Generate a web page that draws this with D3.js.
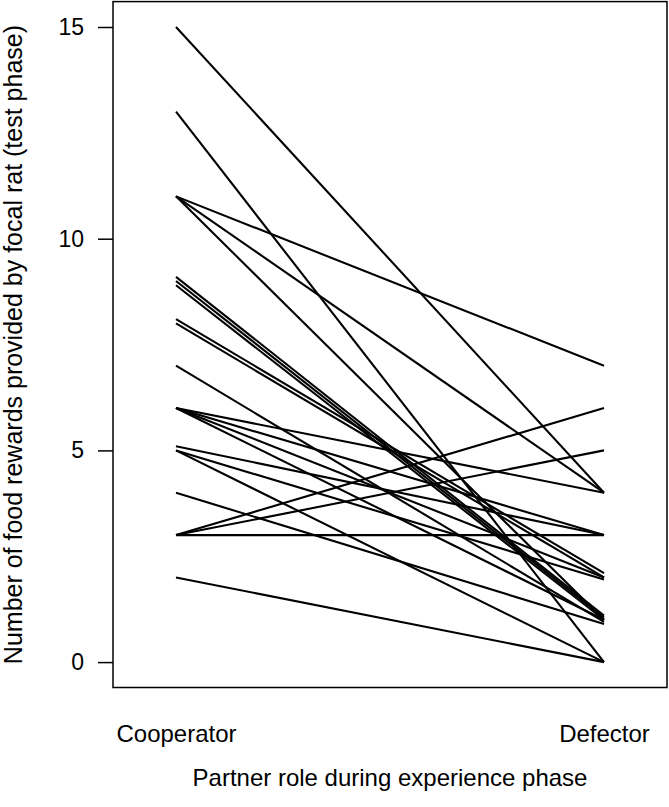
<!DOCTYPE html>
<html>
<head>
<meta charset="utf-8">
<script src="https://cdn.jsdelivr.net/npm/d3@7"></script>
<style>
  html, body { margin: 0; padding: 0; background: #fff; }
  svg { display: block; font-family: "Liberation Sans", Arial, sans-serif; }
</style>
</head>
<body>
<svg id="chart" width="669" height="807"></svg>
<script>
// ---- data (small offsets reproduce the visual jitter of duplicates) ----
const categories = ["Cooperator", "Defector"];
const cooperatorValues = [15, 13, 11, 11, 11, 9.1, 9.0, 8.9, 8.1, 8.0, 7, 6, 6, 6, 6, 5.1, 5.0, 5.0, 4, 3, 3, 3, 2];
const defectorValues   = [4,  0,  7,  4,  1,  1.1, 1.05, 1.0, 2.1, 2.0, 0.95, 4, 3, 2, 1.0, 3, 1.95, 0, 0.9, 3, 6, 5, 0];
const yTicks = [0, 5, 10, 15];
const xTitle = "Partner role during experience phase";
const yTitle = "Number of food rewards provided by focal rat (test phase)";

const pairs = cooperatorValues.map((c, i) => [c, defectorValues[i]]);

const svg = d3.select("#chart");
const box = { left: 113, right: 667, top: 1.6, bottom: 687.5 };

const x = d3.scalePoint().domain(categories).range([176, 604]);
const y = d3.scaleLinear().domain([-0.6, 15.6]).range([box.bottom, box.top]);

// lines
const line = d3.line().x(d => x(d.cat)).y(d => y(d.v));
svg.append("g")
  .selectAll("path")
  .data(pairs)
  .join("path")
  .attr("d", p => line([{cat: categories[0], v: p[0]}, {cat: categories[1], v: p[1]}]))
  .attr("fill", "none")
  .attr("stroke", "#000")
  .attr("stroke-width", 2.1);

// box
svg.append("rect")
  .attr("x", box.left).attr("y", box.top)
  .attr("width", box.right - box.left).attr("height", box.bottom - box.top)
  .attr("fill", "none").attr("stroke", "#000").attr("stroke-width", 1.5);

// y axis
const yAxis = d3.axisLeft(y).tickValues(yTicks).tickSize(15).tickPadding(14).tickFormat(d3.format("d"));
const gy = svg.append("g").attr("transform", `translate(${box.left},0)`).call(yAxis);
gy.select(".domain").remove();
gy.selectAll(".tick line").attr("stroke", "#000").attr("stroke-width", 1.5);
gy.selectAll(".tick text").attr("fill", "#000").style("font-size", "23px").style("font-family", "Liberation Sans, Arial, sans-serif");

// x axis labels (no ticks)
const xAxis = d3.axisBottom(x).tickSize(0).tickPadding(0);
const gx = svg.append("g").attr("transform", `translate(0,${box.bottom})`).call(xAxis);
gx.select(".domain").remove();
gx.selectAll(".tick text").attr("fill", "#000").attr("dy", null).attr("y", 54)
  .style("font-size", "24px").style("font-family", "Liberation Sans, Arial, sans-serif");

// axis titles
svg.append("text")
  .attr("x", (box.left + box.right) / 2).attr("y", 786)
  .attr("text-anchor", "middle").style("font-size", "24px").text(xTitle);

svg.append("text")
  .attr("transform", `translate(22,${(box.top + box.bottom) / 2}) rotate(-90)`)
  .attr("text-anchor", "middle").style("font-size", "25px").text(yTitle);
</script>
</body>
</html>
